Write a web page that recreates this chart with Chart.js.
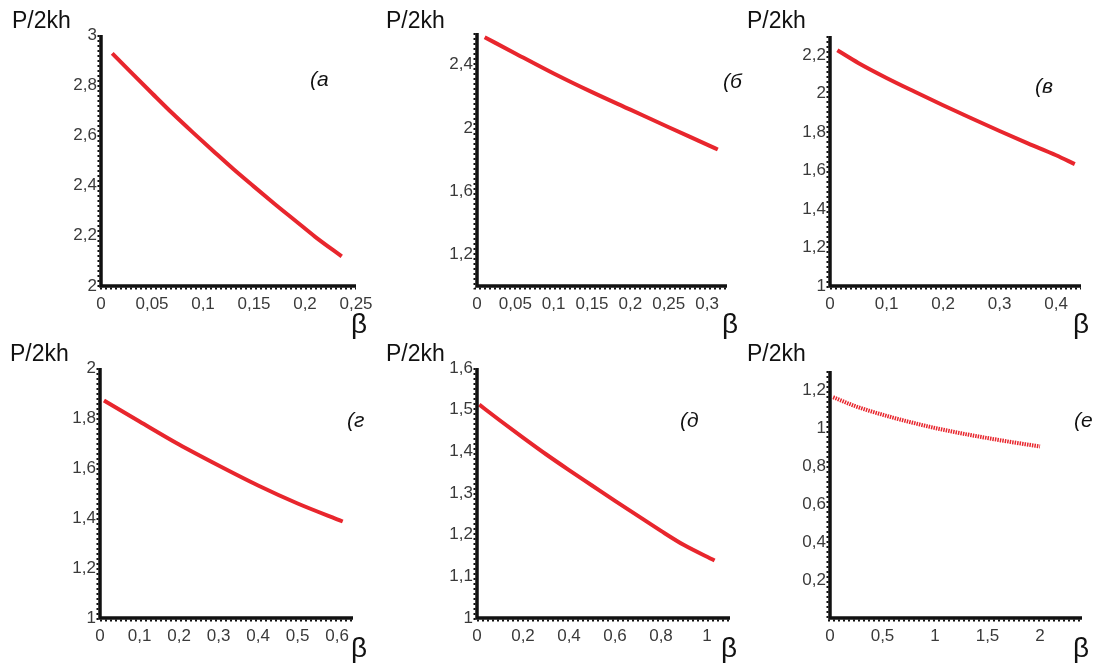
<!DOCTYPE html>
<html>
<head>
<meta charset="utf-8">
<script src="https://cdn.jsdelivr.net/npm/chart.js@4.4.1/dist/chart.umd.min.js"></script>
<style>
  body { margin: 0; background: #fff; width: 1096px; height: 665px; position: relative; overflow: hidden; }
  canvas { position: absolute; }
</style>
</head>
<body>
<script>
'use strict';

// ── Data (β → P/2kh) ────────────────────────────────────────────────────────
const betaA = [0.011, 0.03, 0.05, 0.07, 0.09, 0.11, 0.13, 0.15, 0.17, 0.19, 0.21, 0.236];
const pA    = [2.927, 2.849, 2.768, 2.688, 2.612, 2.538, 2.465, 2.396, 2.328, 2.262, 2.196, 2.118];

const betaB = [0.01, 0.05, 0.1, 0.15, 0.2, 0.25, 0.3, 0.314];
const pB    = [2.573, 2.471, 2.344, 2.226, 2.115, 2.004, 1.894, 1.863];

const betaV = [0.013, 0.05, 0.1, 0.15, 0.2, 0.25, 0.3, 0.35, 0.4, 0.433];
const pV    = [2.226, 2.160, 2.082, 2.010, 1.940, 1.872, 1.806, 1.742, 1.680, 1.634];

const betaG = [0.01, 0.1, 0.2, 0.3, 0.4, 0.5, 0.614];
const pG    = [1.870, 1.786, 1.694, 1.610, 1.530, 1.458, 1.386];

const betaD = [0.01, 0.1, 0.2, 0.3, 0.4, 0.5, 0.6, 0.7, 0.8, 0.9, 1.033];
const pD    = [1.512, 1.474, 1.433, 1.393, 1.355, 1.318, 1.281, 1.245, 1.209, 1.175, 1.138];

const betaE = [0.03, 0.25, 0.5, 0.75, 1, 1.25, 1.5, 1.75, 2];
const pE    = [1.162, 1.113, 1.07, 1.033, 1.0, 0.972, 0.947, 0.924, 0.903];

// ── Tick labels ─────────────────────────────────────────────────────────────
const xTicksA = [0, 0.05, 0.1, 0.15, 0.2, 0.25];
const yTicksA = [2, 2.2, 2.4, 2.6, 2.8, 3];
const xTicksB = [0, 0.05, 0.1, 0.15, 0.2, 0.25, 0.3];
const yTicksB = [1.2, 1.6, 2, 2.4];
const xTicksV = [0, 0.1, 0.2, 0.3, 0.4];
const yTicksV = [1, 1.2, 1.4, 1.6, 1.8, 2, 2.2];
const xTicksG = [0, 0.1, 0.2, 0.3, 0.4, 0.5, 0.6];
const yTicksG = [1, 1.2, 1.4, 1.6, 1.8, 2];
const xTicksD = [0, 0.2, 0.4, 0.6, 0.8, 1];
const yTicksD = [1, 1.1, 1.2, 1.3, 1.4, 1.5, 1.6];
const xTicksE = [0, 0.5, 1, 1.5, 2];
const yTicksE = [0.2, 0.4, 0.6, 0.8, 1, 1.2];

const panelLetters = ['(а', '(б', '(в', '(г', '(д', '(е'];
const yTitle = 'P/2kh';
const xTitle = 'β';

// ── Layout (page pixels) ───────────────────────────────────────────────────
const PAD = { left: 100, top: 40, right: 45, bottom: 60 };
const AXIS_W = 40, AXIS_H = 30;
const FONT = '"Liberation Sans", Arial, sans-serif';
const RED = '#e8262d';

const panels = [
  { beta: betaA, p: pA, xTicks: xTicksA, yTicks: yTicksA, xMax: 0.25,  yMin: 2, yMax: 3,
    rect: [101, 35, 356, 286], title: [12, 28],  beta_: [351, 333],  letter: [310, 86] },
  { beta: betaB, p: pB, xTicks: xTicksB, yTicks: yTicksB, xMax: 0.326, yMin: 1, yMax: 2.6,
    rect: [477, 33, 727, 286], title: [386, 28], beta_: [722, 333],  letter: [723, 88] },
  { beta: betaV, p: pV, xTicks: xTicksV, yTicks: yTicksV, xMax: 0.444, yMin: 1, yMax: 2.3,
    rect: [830, 36, 1081, 286], title: [747, 28], beta_: [1073, 333], letter: [1035, 93] },
  { beta: betaG, p: pG, xTicks: xTicksG, yTicks: yTicksG, xMax: 0.64,  yMin: 1, yMax: 2,
    rect: [100, 368, 353, 618], title: [10, 361], beta_: [351, 657],  letter: [347, 427] },
  { beta: betaD, p: pD, xTicks: xTicksD, yTicks: yTicksD, xMax: 1.1,   yMin: 1, yMax: 1.6,
    rect: [477, 368, 730, 618], title: [386, 361], beta_: [721, 657], letter: [680, 427] },
  { beta: betaE, p: pE, xTicks: xTicksE, yTicks: yTicksE, xMax: 2.4,   yMin: 0, yMax: 1.3,
    rect: [830, 371, 1082, 618], title: [747, 361], beta_: [1073, 657], letter: [1074, 427], hatched: true },
];

const comma = v => String(v).replace('.', ',');

// thick axis lines with little notches on the outer side
const axisFrame = {
  id: 'axisFrame',
  afterDatasetsDraw(chart) {
    const { ctx, chartArea: a } = chart;
    ctx.save();
    ctx.strokeStyle = '#111';
    ctx.lineWidth = 3.5;
    ctx.beginPath();
    ctx.moveTo(a.left, a.top);
    ctx.lineTo(a.left, a.bottom);
    ctx.lineTo(a.right, a.bottom);
    ctx.stroke();
    ctx.lineWidth = 2;
    ctx.setLineDash([2, 3]);
    ctx.beginPath();
    ctx.moveTo(a.left - 2.5, a.top);
    ctx.lineTo(a.left - 2.5, a.bottom + 2.5);
    ctx.lineTo(a.right, a.bottom + 2.5);
    ctx.stroke();
    ctx.restore();
  },
};

function textPlugin(cfg, letter, ox, oy) {
  return {
    id: 'panelText',
    afterDraw(chart) {
      const ctx = chart.ctx;
      ctx.save();
      ctx.fillStyle = '#111';
      ctx.textBaseline = 'alphabetic';
      ctx.textAlign = 'left';
      ctx.font = '23px ' + FONT;
      ctx.fillText(yTitle, cfg.title[0] - ox, cfg.title[1] - oy);
      ctx.font = '28px ' + FONT;
      ctx.fillText(xTitle, cfg.beta_[0] - ox, cfg.beta_[1] - oy);
      ctx.font = 'italic 21px ' + FONT;
      ctx.fillText(letter, cfg.letter[0] - ox, cfg.letter[1] - oy);
      ctx.restore();
    },
  };
}

panels.forEach((cfg, i) => {
  const [l, t, r, b] = cfg.rect;
  const ox = l - PAD.left, oy = t - PAD.top;
  const w = r - l + PAD.left + PAD.right;
  const h = b - t + PAD.top + PAD.bottom;

  const canvas = document.createElement('canvas');
  canvas.width = w; canvas.height = h;
  canvas.style.left = ox + 'px'; canvas.style.top = oy + 'px';
  canvas.style.width = w + 'px'; canvas.style.height = h + 'px';
  document.body.appendChild(canvas);

  new Chart(canvas, {
    type: 'line',
    data: {
      datasets: [{
        data: cfg.beta.map((x, k) => ({ x: x, y: cfg.p[k] })),
        borderColor: RED,
        borderWidth: 4,
        borderDash: cfg.hatched ? [1.5, 1] : [],
        borderCapStyle: 'butt',
        pointRadius: 0,
        cubicInterpolationMode: 'monotone',
        fill: false,
      }],
    },
    options: {
      responsive: false,
      animation: false,
      devicePixelRatio: 1,
      layout: { padding: { left: PAD.left - AXIS_W, top: PAD.top, right: PAD.right, bottom: PAD.bottom - AXIS_H } },
      plugins: { legend: { display: false }, tooltip: { enabled: false } },
      scales: {
        x: {
          type: 'linear', min: 0, max: cfg.xMax,
          grid: { display: false, drawTicks: false }, border: { display: false },
          afterBuildTicks: s => { s.ticks = cfg.xTicks.map(v => ({ value: v })); },
          afterFit: s => { s.height = AXIS_H; },
          ticks: { color: '#3a3a3a', padding: 8, maxRotation: 0, autoSkip: false,
                   font: { family: FONT, size: 17 }, callback: comma },
        },
        y: {
          type: 'linear', min: cfg.yMin, max: cfg.yMax,
          grid: { display: false, drawTicks: false }, border: { display: false },
          afterBuildTicks: s => { s.ticks = cfg.yTicks.map(v => ({ value: v })); },
          afterFit: s => { s.width = AXIS_W; },
          ticks: { color: '#3a3a3a', padding: 4, autoSkip: false,
                   font: { family: FONT, size: 17 }, callback: comma },
        },
      },
    },
    plugins: [axisFrame, textPlugin(cfg, panelLetters[i], ox, oy)],
  });
});
</script>
</body>
</html>
